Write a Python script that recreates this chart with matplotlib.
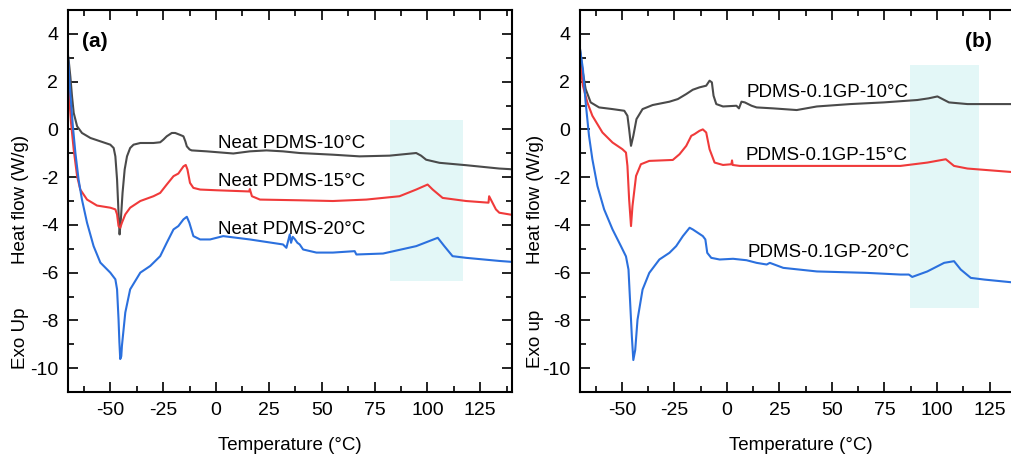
import matplotlib
matplotlib.use("Agg")
import matplotlib.pyplot as plt
from matplotlib.patches import Rectangle
from matplotlib.ticker import MultipleLocator

plt.rcParams["font.family"] = ["Liberation Sans", "DejaVu Sans"]
plt.rcParams["axes.unicode_minus"] = False

# ---- panel (a): neat PDMS ----
a10_t = [-70, -69.7, -68.9, -68.1, -67.3, -65.7, -63.4, -59.4, -54.7, -50, -48.4, -47.6,
         -46.8, -46.1, -45.6, -45, -44.2, -43.2, -42.1, -40.6, -39, -35.8, -29.6, -26.4,
         -24.9, -23.3, -20.9, -19.3, -17, -15.4, -14.5, -13.8, -12.5, -11.5, -4.4, 8.2,
         16, 23.9, 31.7, 39.6, 55.3, 67.9, 82.1, 94.7, 97, 99.4, 105.7, 118.3, 134, 140]
a10_y = [3.1, 2.91, 2.22, 1.38, 0.69, 0.13, -0.15, -0.36, -0.5, -0.64, -0.78, -1.13,
         -2.1, -3.49, -4.4, -3.77, -2.66, -1.68, -1.13, -0.78, -0.64, -0.57, -0.57, -0.54,
         -0.43, -0.29, -0.15, -0.15, -0.23, -0.29, -0.5, -0.71, -0.84, -0.88, -0.92, -1.01,
         -0.92, -0.88, -0.92, -0.99, -1.06, -1.13, -1.1, -0.99, -1.1, -1.27, -1.4, -1.5,
         -1.64, -1.67]

a15_t = [-69.6, -68.6, -67.3, -65.7, -64.2, -61, -56.3, -50, -47.6, -46.8, -46.1, -45.3,
         -44.5, -42.9, -40.6, -35.8, -29.6, -26.4, -23.3, -20.1, -17.8, -15.4, -14.3,
         -13.5, -12.3, -10.7, -7.5, 0.3, 15.7, 16, 17, 20.8, 39.6, 55.3, 71.1, 86.8, 94.7,
         100.1, 102.5, 107.2, 118.3, 128.9, 129.2, 132.4, 134, 140]
a15_y = [1.6, 0.3, -0.85, -1.96, -2.52, -2.94, -3.19, -3.28, -3.35, -3.56, -4.05, -4.12,
         -3.91, -3.56, -3.28, -3.0, -2.8, -2.66, -2.31, -1.96, -1.85, -1.55, -1.49, -1.68,
         -2.24, -2.45, -2.52, -2.55, -2.6, -2.5, -2.8, -2.94, -2.97, -3.0, -2.94, -2.8,
         -2.52, -2.31, -2.52, -2.87, -3.0, -3.07, -2.8, -3.35, -3.49, -3.58]

a20_t = [-70, -68.9, -67.7, -66.5, -65, -63.4, -61, -57.9, -54.7, -50, -47.6, -46.8,
         -46.1, -45.7, -45.3, -44.8, -44.5, -42.9, -40.6, -35.8, -31.1, -26.4, -23.3,
         -20.1, -17.8, -15.4, -13.8, -12.6, -10.7, -7.5, -2.8, 3.4, 16, 31.7, 33.3, 34.9,
         35.5, 36.3, 37.3, 38.5, 39.6, 41.2, 47.5, 55.3, 65.6, 66.4, 79, 94.7, 104.9,
         108, 111.9, 118.3, 134, 140]
a20_y = [3.05, 1.5, 0.13, -0.99, -2.1, -2.94, -3.91, -4.89, -5.58, -6.0, -6.28, -6.7,
         -7.95, -8.9, -9.62, -9.5, -9.07, -7.67, -6.7, -6.0, -5.72, -5.31, -4.75, -4.19,
         -4.05, -3.77, -3.66, -3.91, -4.47, -4.61, -4.61, -4.47, -4.61, -4.82, -4.96, -4.4,
         -4.75, -4.5, -4.6, -4.75, -4.82, -5.03, -5.16, -5.16, -5.1, -5.24, -5.2, -4.89,
         -4.54, -4.89, -5.31, -5.38, -5.51, -5.55]

# ---- panel (b): PDMS-0.1GP ----
b10_t = [-70, -68.9, -67.3, -64.9, -60.9, -54.5, -48.9, -47.4, -46.6, -45.7, -44.6, -43.1,
         -40.2, -35.4, -27.4, -23.4, -19.4, -16.3, -13.1, -9.9, -8.3, -7.2, -6.4, -5.1,
         -1.9, 4.5, 5.7, 6.9, 8.5, 11.7, 14.1, 22, 33.2, 42.8, 58.7, 74.6, 90.6, 96, 100.2,
         105.7, 114.5, 136.2, 140]
b10_y = [3.37, 2.53, 1.69, 1.13, 0.92, 0.85, 0.78, 0.57, 0.01, -0.69, -0.27, 0.43,
         0.85, 1.02, 1.16, 1.27, 1.48, 1.66, 1.76, 1.83, 2.04, 1.97, 1.41, 1.06, 0.96,
         0.99, 0.88, 1.16, 1.13, 0.99, 0.92, 0.88, 0.81, 0.96, 1.06, 1.13, 1.23, 1.3, 1.38,
         1.13, 1.06, 1.06, 1.05]

b15_t = [-70, -68.6, -66.5, -64.1, -59.3, -54.5, -49.8, -48.1, -47.4, -46.6, -45.7, -45,
         -43.3, -41, -37, -25.8, -22.6, -19.4, -17, -15.5, -13.1, -11.5, -9.9, -8.3, -5.9,
         -1.9, 2.1, 2.4, 2.7, 6.1, 34.8, 58.7, 82.6, 95.4, 104.2, 108.1, 114.5, 136.2, 140]
b15_y = [2.8, 1.83, 1.13, 0.57, -0.13, -0.55, -0.83, -0.97, -1.53, -2.93, -4.05, -3.21,
         -1.95, -1.46, -1.32, -1.28, -1.04, -0.69, -0.27, -0.2, -0.06, 0.0, -0.13, -0.83,
         -1.39, -1.49, -1.46, -1.3, -1.49, -1.53, -1.53, -1.53, -1.53, -1.39, -1.25, -1.53,
         -1.64, -1.79, -1.81]

b20_t = [-70, -68.6, -67.3, -65.7, -64.1, -61.7, -58.5, -54.5, -50.5, -48.1, -46.9, -46.1,
         -45.3, -44.6, -43.7, -42.6, -40.2, -37, -32.2, -27.4, -24.2, -21, -17.8, -16.3,
         -13.9, -11.5, -10.3, -9.4, -7.5, -3.5, 2.9, 9.3, 14.1, 18.9, 20.4, 26.8, 42.8,
         66.7, 82.6, 86.6, 88.2, 95.4, 103.4, 108.1, 111.3, 116.1, 122.5, 136.2, 140]
b20_y = [3.37, 2.53, 1.13, -0.27, -1.25, -2.37, -3.35, -4.19, -4.89, -5.32, -5.87, -7.27,
         -8.68, -9.66, -9.24, -7.97, -6.71, -6.01, -5.45, -5.17, -4.89, -4.47, -4.12,
         -4.19, -4.33, -4.47, -4.61, -5.17, -5.38, -5.45, -5.42, -5.48, -5.59, -5.66,
         -5.59, -5.8, -5.95, -6.01, -6.08, -6.08, -6.18, -5.95, -5.59, -5.52, -5.87, -6.22,
         -6.29, -6.41, -6.43]

labels_a = ["Neat PDMS-10\u00b0C", "Neat PDMS-15\u00b0C", "Neat PDMS-20\u00b0C"]
labels_b = ["PDMS-0.1GP-10\u00b0C", "PDMS-0.1GP-15\u00b0C", "PDMS-0.1GP-20\u00b0C"]
label_pos_a = [(0.9, -0.6), (0.9, -2.2), (0.9, -4.2)]
label_pos_b = [(9.4, 1.56), (8.9, -1.1), (9.8, -5.16)]
box_a = (82.5, 117.0, -6.36, 0.4)
box_b = (87.0, 120.0, -7.47, 2.7)

colors = ["#4a4a4a", "#f03a3a", "#2b70de"]

fig = plt.figure(figsize=(10.12, 4.57), dpi=100)
ax_a = fig.add_axes([0.0672, 0.1422, 0.4387, 0.8359])
ax_b = fig.add_axes([0.5731, 0.1422, 0.4358, 0.8359])

panels = [
    (ax_a, [(a10_t, a10_y), (a15_t, a15_y), (a20_t, a20_y)], labels_a, label_pos_a, box_a,
     "(a)", 0.0315, "Exo Up", -0.106),
    (ax_b, [(b10_t, b10_y), (b15_t, b15_y), (b20_t, b20_y)], labels_b, label_pos_b, box_b,
     "(b)", 0.873, "Exo up", -0.10),
]

for ax, series, labels, lpos, box, tag, tag_x, exo, ylab_x in panels:
    x0, x1, y0, y1 = box
    ax.add_patch(Rectangle((x0, y0), x1 - x0, y1 - y0, facecolor="#dcf5f6",
                           edgecolor="none", alpha=0.8, zorder=0))
    for (t, y), c in zip(series, colors):
        ax.plot(t, y, color=c, lw=1.5, zorder=2, solid_joinstyle="round")
    for lab, (tx, ty) in zip(labels, lpos):
        ax.text(tx, ty, lab, fontsize=13.5, ha="left", va="center", zorder=3)

    ax.set_xlim(-70, 140)
    ax.set_ylim(-11, 5)
    ax.xaxis.set_minor_locator(MultipleLocator(12.5))
    ax.yaxis.set_minor_locator(MultipleLocator(1))
    ax.set_xticks([-50, -25, 0, 25, 50, 75, 100, 125])
    ax.set_yticks([4, 2, 0, -2, -4, -6, -8, -10])
    ax.tick_params(which="both", direction="in", top=True, right=True, width=1.2)
    ax.tick_params(which="major", length=7, labelsize=14, pad=7)
    ax.tick_params(which="minor", length=4)
    for sp in ax.spines.values():
        sp.set_linewidth(1.5)

    ax.text(tag_x, 0.9175, tag, transform=ax.transAxes, fontsize=15,
            fontweight="bold", ha="left", va="center")
    ax.text(0.5, -0.139, "Temperature (\u00b0C)", transform=ax.transAxes,
            fontsize=13.5, ha="center", va="center")
    ax.text(ylab_x, 0.503, "Heat flow (W/g)", transform=ax.transAxes, rotation=90,
            fontsize=13.5, ha="center", va="center")
    ax.text(ylab_x, 0.14, exo, transform=ax.transAxes, rotation=90,
            fontsize=13.5, ha="center", va="center")

fig.savefig("out.png", dpi=100)
